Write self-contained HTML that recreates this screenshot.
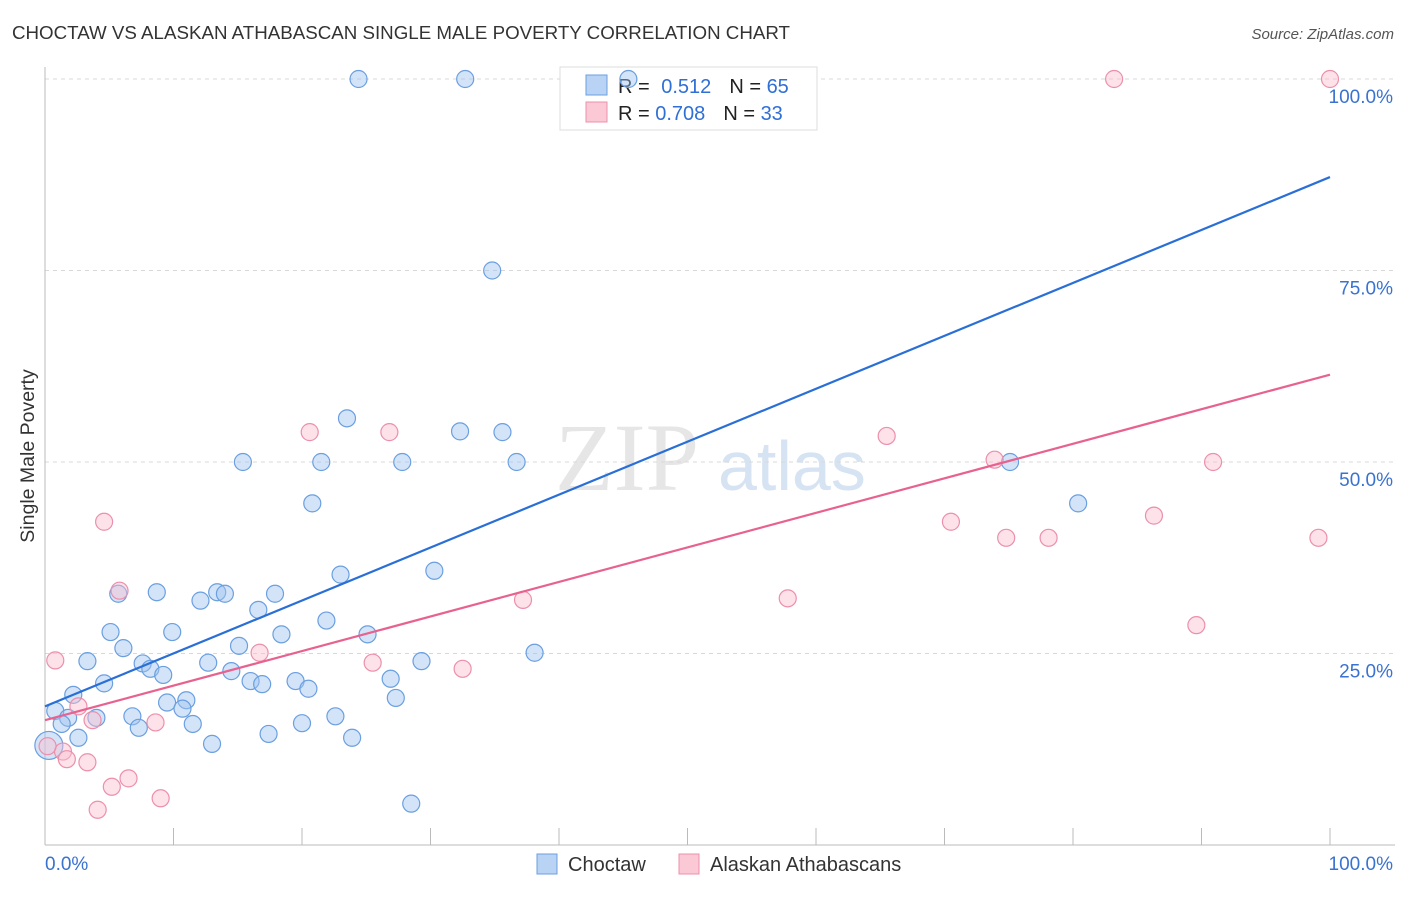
<!DOCTYPE html>
<html><head><meta charset="utf-8"><style>
body{margin:0;background:#fff;font-family:"Liberation Sans",sans-serif}
</style></head><body>
<svg id="chart" width="1406" height="892" xmlns="http://www.w3.org/2000/svg">
<text x="12" y="39" font-size="18" fill="#333" textLength="778" lengthAdjust="spacingAndGlyphs">CHOCTAW VS ALASKAN ATHABASCAN SINGLE MALE POVERTY CORRELATION CHART</text>
<text x="1394" y="39" font-size="15" fill="#555" font-style="italic" text-anchor="end">Source: ZipAtlas.com</text>
<text x="34" y="456" font-size="19.5" fill="#333" text-anchor="middle" transform="rotate(-90 34 456)">Single Male Poverty</text>
<text x="555" y="490" font-size="96" fill="#e6e6e6" font-family="Liberation Serif,serif">ZIP</text>
<text x="718" y="490" font-size="70" fill="#d6e3f3">atlas</text>
<g id="grid"></g>
<g>
<rect x="560" y="67" width="257" height="63" fill="#fff" stroke="#ddd"/>
<rect x="586" y="75" width="21" height="20" fill="#b9d3f5" stroke="#6a9fe0"/>
<rect x="586" y="102" width="21" height="20" fill="#fbc8d6" stroke="#ec8fab"/>
<text x="618" y="93" font-size="20" fill="#222">R = <tspan fill="#2f6fd6" dx="6">0.512</tspan><tspan dx="18" fill="#222">N = </tspan><tspan fill="#2f6fd6">65</tspan></text>
<text x="618" y="120" font-size="20" fill="#222">R = <tspan fill="#2f6fd6">0.708</tspan><tspan dx="18" fill="#222">N = </tspan><tspan fill="#2f6fd6">33</tspan></text>
</g>
<g id="pts"></g><g id="lines"></g>
<g>
<rect x="537" y="854" width="20" height="20" fill="#b9d3f5" stroke="#6a9fe0"/>
<text x="568" y="871" font-size="20" fill="#333">Choctaw</text>
<rect x="679" y="854" width="20" height="20" fill="#fbc8d6" stroke="#ec8fab"/>
<text x="710" y="871" font-size="20" fill="#333">Alaskan Athabascans</text>
</g>
</svg>
<script>
const yTicks=[25,50,75,100];
const yTickLabels=["25.0%","50.0%","75.0%","100.0%"];
const xTicks=[0,10,20,30,40,50,60,70,80,90,100];
const choctawX=[24.4,32.7,45.4,34.8,23.5,32.3,35.6,15.4,21.5,27.8,36.7,75.1,20.8,80.4,23.0,30.3,8.7,5.7,13.4,14.0,12.1,17.9,16.6,21.9,5.1,9.9,18.4,25.1,6.1,15.1,38.1,3.3,7.6,8.2,12.7,9.2,14.5,29.3,4.6,16.0,16.9,19.5,20.5,26.9,2.2,9.5,11.0,10.7,27.3,0.8,1.8,4.0,1.3,6.8,11.5,22.6,7.3,20.0,2.6,17.4,13.0,23.9,28.5,0.3];
const choctawY=[100,100,100,75,55.7,54.0,53.9,50,50,50,50,50,44.6,44.6,35.3,35.8,33.0,32.8,33.0,32.8,31.9,32.8,30.7,29.3,27.8,27.8,27.5,27.5,25.7,26.0,25.1,24.0,23.7,23.0,23.8,22.2,22.7,24.0,21.1,21.4,21.0,21.4,20.4,21.7,19.6,18.6,18.9,17.8,19.2,17.5,16.6,16.6,15.8,16.8,15.8,16.8,15.3,15.9,14.0,14.5,13.2,14.0,5.4,13.0];
const alaskanX=[83.2,100,20.6,26.8,65.5,73.9,90.9,4.6,70.5,74.8,78.1,86.3,99.1,5.8,37.2,57.8,89.6,0.8,16.7,25.5,32.5,2.6,3.7,8.6,1.4,1.7,3.3,6.5,5.2,9.0,4.1,0.2];
const alaskanY=[100,100,53.9,53.9,53.4,50.3,50,42.2,42.2,40.1,40.1,43.0,40.1,33.2,32.0,32.2,28.7,24.1,25.1,23.8,23.0,18.1,16.3,16.0,12.2,11.2,10.8,8.7,7.6,6.1,4.6,12.9];
const blueLine=[18.1,87.2];
const pinkLine=[16.3,61.4];
const X=v=>45+v*12.85, Y=v=>845-v*7.66;
const NS="http://www.w3.org/2000/svg";
function mk(t,a,p){const e=document.createElementNS(NS,t);for(const k in a)e.setAttribute(k,a[k]);p.appendChild(e);return e;}
const grid=document.getElementById('grid');
yTicks.forEach((t,i)=>{
 const l=mk('line',{x1:45,x2:1395,y1:Y(t),y2:Y(t),stroke:'#d8d8d8','stroke-dasharray':'4 4'},grid);
 
 
 const tx=mk('text',{x:1393,y:Y(t)+24,'font-size':19,fill:'#3a72d0','text-anchor':'end'},grid);
 tx.textContent=yTickLabels[i];
 
 
});
mk('line',{x1:45,x2:45,y1:67,y2:845,stroke:'#bbb'},grid);
mk('line',{x1:45,x2:1395,y1:845,y2:845,stroke:'#bbb'},grid);
xTicks.forEach(t=>{const l=mk('line',{x1:X(t),x2:X(t),y1:828,y2:845,stroke:'#bbb'},grid);
 
 });
let a=mk('text',{x:45,y:870,'font-size':19,fill:'#3a72d0'},grid);a.textContent='0.0%';


a=mk('text',{x:1393,y:870,'font-size':19,fill:'#3a72d0','text-anchor':'end'},grid);a.textContent='100.0%';


const pts=document.getElementById('pts');
choctawX.forEach((v,i)=>{const c=mk('circle',{cx:X(v),cy:Y(choctawY[i]),r:i==choctawX.length-1?14:8.5,fill:'rgba(160,195,240,0.45)',stroke:'#6a9fe0','stroke-width':1.2},pts);
 
 });
alaskanX.forEach((v,i)=>{const c=mk('circle',{cx:X(v),cy:Y(alaskanY[i]),r:8.5,fill:'rgba(250,190,208,0.45)',stroke:'#ec8fab','stroke-width':1.2},pts);
 
 });
const lines=document.getElementById('lines');
let bl=mk('line',{x1:X(0),y1:Y(blueLine[0]),x2:X(100),y2:Y(blueLine[1]),stroke:'#2a6fd6','stroke-width':2.2},lines);


let pl=mk('line',{x1:X(0),y1:Y(pinkLine[0]),x2:X(100),y2:Y(pinkLine[1]),stroke:'#e8628f','stroke-width':2.2},lines);


</script>
</body></html>
